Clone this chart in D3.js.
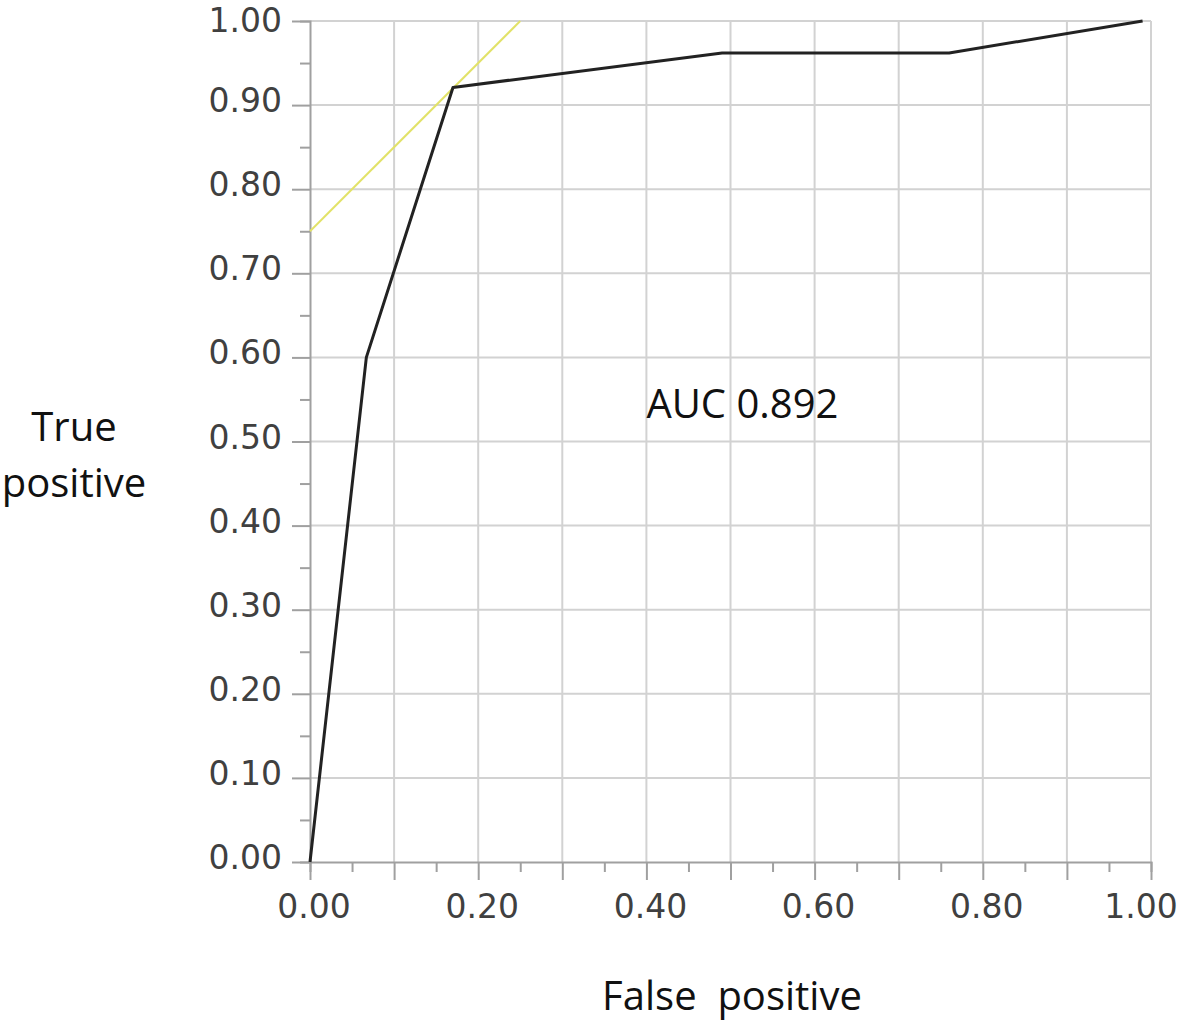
<!DOCTYPE html>
<html>
<head>
<meta charset="utf-8">
<script src="https://cdn.jsdelivr.net/npm/d3@7"></script>
<style>
  body { margin: 0; background: #fff; }
  svg { display: block; }
</style>
</head>
<body>
<svg id="chart" width="1181" height="1023"></svg>
<script>
// ROC curve points
const fpr = [0, 0.067, 0.170, 0.490, 0.760, 0.99];
const tpr = [0, 0.600, 0.921, 0.962, 0.962, 1.00];
// reference line (yellow)
const refX = [0, 0.25];
const refY = [0.75, 1.0];
const majorTicks = [0, 0.2, 0.4, 0.6, 0.8, 1.0];
const yTicks = [0, 0.1, 0.2, 0.3, 0.4, 0.5, 0.6, 0.7, 0.8, 0.9, 1.0];
const gridTicks = [0.1, 0.2, 0.3, 0.4, 0.5, 0.6, 0.7, 0.8, 0.9, 1.0];
const aucLabel = "AUC 0.892";

const margin = {top: 21, left: 310},
    w = 841, h = 841;

const svg = d3.select('#chart');
const g = svg.append('g').attr('transform', `translate(${margin.left},${margin.top})`);

const x = d3.scaleLinear().domain([0, 1]).range([0, w]);
const y = d3.scaleLinear().domain([0, 1]).range([h, 0]);

// grid
g.selectAll('.vgrid').data(gridTicks).enter().append('line')
    .attr('x1', d => x(d)).attr('x2', d => x(d))
    .attr('y1', 0).attr('y2', h)
    .attr('stroke', '#d2d2d2').attr('stroke-width', 2);
g.selectAll('.hgrid').data(gridTicks).enter().append('line')
    .attr('x1', 0).attr('x2', w)
    .attr('y1', d => y(d)).attr('y2', d => y(d))
    .attr('stroke', '#d2d2d2').attr('stroke-width', 2);

// axes
const axisColor = '#a0a0a0';
const xAxis = g.append('g').attr('transform', `translate(0,${h})`)
    .call(d3.axisBottom(x).tickValues(d3.range(0, 1.001, 0.05)).tickSize(10).tickFormat(''));
const yAxis = g.append('g')
    .call(d3.axisLeft(y).tickValues(d3.range(0, 1.001, 0.05)).tickSize(10).tickFormat(''));
[xAxis, yAxis].forEach(a => {
    a.select('.domain').attr('stroke', axisColor).attr('stroke-width', 2);
    a.selectAll('.tick line').attr('stroke', axisColor).attr('stroke-width', 2);
});
// major ticks are longer
xAxis.selectAll('.tick line').filter(d => Math.abs(d * 10 - Math.round(d * 10)) < 1e-6).attr('y2', 18);
yAxis.selectAll('.tick line').filter(d => Math.abs(d * 10 - Math.round(d * 10)) < 1e-6).attr('x2', -18);

// tick labels
g.selectAll('.xlab').data(majorTicks).enter().append('text')
    .attr('x', d => x(d) + (d === 1 ? -10 : 4)).attr('y', h + 56)
    .attr('text-anchor', 'middle')
    .attr('font-family', 'DejaVu Sans').attr('font-size', 33).attr('fill', '#404040')
    .text(d => d.toFixed(2));
g.selectAll('.ylab').data(yTicks).enter().append('text')
    .attr('x', -28).attr('y', d => Math.max(y(d) + 7, 11)) // keep top label inside
    .attr('text-anchor', 'end')
    .attr('font-family', 'DejaVu Sans').attr('font-size', 33).attr('fill', '#404040')
    .text(d => d.toFixed(2));

// reference line
g.append('path')
    .datum(d3.zip(refX, refY))
    .attr('d', d3.line().x(d => x(d[0])).y(d => y(d[1])))
    .attr('fill', 'none').attr('stroke', '#e2e268').attr('stroke-width', 2);

// ROC curve
g.append('path')
    .datum(d3.zip(fpr, tpr))
    .attr('d', d3.line().x(d => x(d[0])).y(d => y(d[1])))
    .attr('fill', 'none').attr('stroke', '#222').attr('stroke-width', 3)
    .attr('stroke-linejoin', 'round');

// labels
const labelFont = 'Open Sans';
g.append('text').attr('x', x(0.4) - 0).attr('y', 397)
    .attr('font-family', labelFont).attr('font-size', 40).attr('fill', '#111')
    .attr('xml:space', 'preserve')
    .text(aucLabel);

svg.append('text').attr('x', 74).attr('y', 441)
    .attr('text-anchor', 'middle')
    .attr('font-family', labelFont).attr('font-size', 40).attr('fill', '#111')
    .text('True');
svg.append('text').attr('x', 74).attr('y', 497)
    .attr('text-anchor', 'middle')
    .attr('font-family', labelFont).attr('font-size', 40).attr('fill', '#111')
    .text('positive');
svg.append('text').attr('x', 732).attr('y', 1010)
    .attr('text-anchor', 'middle')
    .attr('font-family', labelFont).attr('font-size', 40).attr('fill', '#111')
    .attr('xml:space', 'preserve')
    .text('False  positive');
</script>
</body>
</html>
